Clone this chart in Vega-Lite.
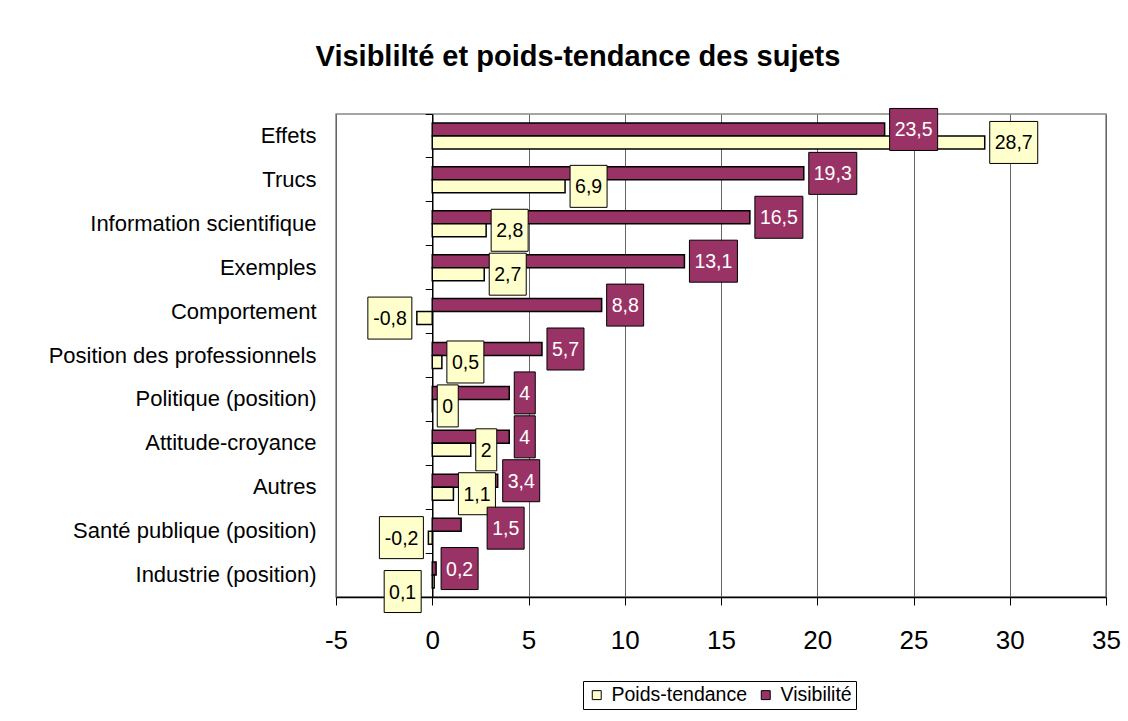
{
  "$schema": "https://vega.github.io/schema/vega-lite/v6.json",
  "width": 770,
  "height": 483,
  "autosize": {"type": "none"},
  "padding": {"left": 336, "top": 114, "right": 22, "bottom": 124},
  "background": "white",
  "title": {
    "text": "Visiblilté et poids-tendance des sujets",
    "font": "Liberation Sans",
    "fontSize": 29,
    "fontWeight": "bold",
    "color": "black",
    "anchor": "middle",
    "dx": -143,
    "offset": 34
  },
  "config": {
    "font": "Liberation Sans",
    "view": {"stroke": "#888", "strokeWidth": 1.5},
    "locale": {"number": {"decimal": ",", "thousands": ".", "grouping": [3], "currency": ["", "€"], "minus": "-"}}
  },
  "data": {
    "values": [
      {"cat": "Effets", "series": "Visibilité", "v": 23.5, "label": "23,5"},
      {"cat": "Effets", "series": "Poids-tendance", "v": 28.7, "label": "28,7"},
      {"cat": "Trucs", "series": "Visibilité", "v": 19.3, "label": "19,3"},
      {"cat": "Trucs", "series": "Poids-tendance", "v": 6.9, "label": "6,9"},
      {"cat": "Information scientifique", "series": "Visibilité", "v": 16.5, "label": "16,5"},
      {"cat": "Information scientifique", "series": "Poids-tendance", "v": 2.8, "label": "2,8"},
      {"cat": "Exemples", "series": "Visibilité", "v": 13.1, "label": "13,1"},
      {"cat": "Exemples", "series": "Poids-tendance", "v": 2.7, "label": "2,7"},
      {"cat": "Comportement", "series": "Visibilité", "v": 8.8, "label": "8,8"},
      {"cat": "Comportement", "series": "Poids-tendance", "v": -0.8, "label": "-0,8"},
      {"cat": "Position des professionnels", "series": "Visibilité", "v": 5.7, "label": "5,7"},
      {"cat": "Position des professionnels", "series": "Poids-tendance", "v": 0.5, "label": "0,5"},
      {"cat": "Politique (position)", "series": "Visibilité", "v": 4, "label": "4"},
      {"cat": "Politique (position)", "series": "Poids-tendance", "v": 0, "label": "0"},
      {"cat": "Attitude-croyance", "series": "Visibilité", "v": 4, "label": "4"},
      {"cat": "Attitude-croyance", "series": "Poids-tendance", "v": 2, "label": "2"},
      {"cat": "Autres", "series": "Visibilité", "v": 3.4, "label": "3,4"},
      {"cat": "Autres", "series": "Poids-tendance", "v": 1.1, "label": "1,1"},
      {"cat": "Santé publique (position)", "series": "Visibilité", "v": 1.5, "label": "1,5"},
      {"cat": "Santé publique (position)", "series": "Poids-tendance", "v": -0.2, "label": "-0,2"},
      {"cat": "Industrie (position)", "series": "Visibilité", "v": 0.2, "label": "0,2"},
      {"cat": "Industrie (position)", "series": "Poids-tendance", "v": 0.1, "label": "0,1"}
    ]
  },
  "resolve": {"axis": {"y": "independent"}},
  "layer": [
    {
      "mark": {"type": "bar", "stroke": "black", "strokeWidth": 1.5},
      "encoding": {
        "y": {
          "field": "cat", "type": "nominal",
          "sort": ["Effets","Trucs","Information scientifique","Exemples","Comportement","Position des professionnels","Politique (position)","Attitude-croyance","Autres","Santé publique (position)","Industrie (position)"],
          "scale": {"paddingInner": 0, "paddingOuter": 0},
          "axis": {"title": null, "orient": "left", "ticks": false, "domain": false, "grid": false, "labelFontSize": 22, "labelColor": "black", "labelPadding": 20, "labelLimit": 400, "labelFont": "Liberation Sans"}
        },
        "yOffset": {"field": "series", "type": "nominal", "sort": ["Visibilité", "Poids-tendance"], "scale": {"paddingInner": 0, "paddingOuter": 0.69}},
        "x": {
          "field": "v", "type": "quantitative",
          "scale": {"domain": [-5, 35], "nice": false},
          "axis": {"title": null, "values": [-5, 0, 5, 10, 15, 20, 25, 30, 35], "format": "d", "grid": true, "gridColor": "#666", "gridWidth": 1, "domainColor": "black", "domainWidth": 1.5, "tickColor": "black", "tickSize": 8, "tickWidth": 1, "labelFontSize": 26, "labelColor": "black", "labelPadding": 22, "labelFont": "Liberation Sans", "labelFlush": false}
        },
        "color": {
          "field": "series", "type": "nominal",
          "scale": {"domain": ["Poids-tendance", "Visibilité"], "range": ["#FFFFCC", "#993366"]},
          "legend": {"title": null, "orient": "none", "legendX": 247, "legendY": 567, "direction": "horizontal", "strokeColor": "black", "fillColor": "white", "padding": 4, "symbolType": "square", "symbolSize": 80, "symbolStrokeColor": "black", "symbolStrokeWidth": 1, "labelFontSize": 19.5, "labelFont": "Liberation Sans", "labelColor": "black", "columnPadding": 8, "labelOffset": 5}
        }
      }
    },
    {
      "transform": [
        {"filter": "datum.series == 'Poids-tendance'"},
        {"calculate": "datum.cat == 'Industrie (position)' ? 'm3' : (datum.v < 0 ? 'n' : 'p') + length(datum.label)", "as": "shp"}
      ],
      "mark": {"type": "point", "filled": true, "fill": "#FFFFCC", "stroke": "black", "strokeWidth": 1, "size": 400, "opacity": 1},
      "encoding": {
        "y": {"field": "cat", "type": "nominal", "sort": ["Effets","Trucs","Information scientifique","Exemples","Comportement","Position des professionnels","Politique (position)","Attitude-croyance","Autres","Santé publique (position)","Industrie (position)"], "axis": null},
        "yOffset": {"field": "series", "type": "nominal", "sort": ["Visibilité", "Poids-tendance"]},
        "x": {"field": "v", "type": "quantitative"},
        "shape": {"field": "shp", "type": "nominal", "legend": null,
          "scale": {"domain": ["p1", "p3", "p4", "n4", "m3", "s3"], "range": ["M0.5,-2.1L2.6,-2.1L2.6,2.1L0.5,2.1Z", "M0.5,-2.1L4.2,-2.1L4.2,2.1L0.5,2.1Z", "M0.5,-2.1L5.3,-2.1L5.3,2.1L0.5,2.1Z", "M-0.5,-2.1L-4.9,-2.1L-4.9,2.1L-0.5,2.1Z", "M-1.3,-1.1L-5.0,-1.1L-5.0,3.1L-1.3,3.1Z", "M2.6,-1.75L6.3,-1.75L6.3,2.45L2.6,2.45Z"]}}
      }
    },
    {
      "transform": [
        {"filter": "datum.series == 'Visibilité'"},
        {"calculate": "datum.cat == 'Santé publique (position)' ? 's3' : (datum.v < 0 ? 'n' : 'p') + length(datum.label)", "as": "shp"}
      ],
      "mark": {"type": "point", "filled": true, "fill": "#993366", "stroke": "black", "strokeWidth": 1, "size": 400, "opacity": 1},
      "encoding": {
        "y": {"field": "cat", "type": "nominal", "sort": ["Effets","Trucs","Information scientifique","Exemples","Comportement","Position des professionnels","Politique (position)","Attitude-croyance","Autres","Santé publique (position)","Industrie (position)"], "axis": null},
        "yOffset": {"field": "series", "type": "nominal", "sort": ["Visibilité", "Poids-tendance"]},
        "x": {"field": "v", "type": "quantitative"},
        "shape": {"field": "shp", "type": "nominal", "legend": null}
      }
    },
    {
      "transform": [{"filter": "datum.series == 'Poids-tendance' && datum.v >= 0 && datum.cat != 'Industrie (position)'"}],
      "mark": {"type": "text", "align": "left", "baseline": "middle", "dx": 10, "dy": 1, "fontSize": 19.5, "font": "Liberation Sans", "color": "black"},
      "encoding": {
        "y": {"field": "cat", "type": "nominal", "sort": ["Effets","Trucs","Information scientifique","Exemples","Comportement","Position des professionnels","Politique (position)","Attitude-croyance","Autres","Santé publique (position)","Industrie (position)"], "axis": null},
        "yOffset": {"field": "series", "type": "nominal", "sort": ["Visibilité", "Poids-tendance"]},
        "x": {"field": "v", "type": "quantitative"},
        "text": {"field": "label"}
      }
    },
    {
      "transform": [{"filter": "datum.series == 'Poids-tendance' && datum.v < 0"}],
      "mark": {"type": "text", "align": "right", "baseline": "middle", "dx": -10, "dy": 1, "fontSize": 19.5, "font": "Liberation Sans", "color": "black"},
      "encoding": {
        "y": {"field": "cat", "type": "nominal", "sort": ["Effets","Trucs","Information scientifique","Exemples","Comportement","Position des professionnels","Politique (position)","Attitude-croyance","Autres","Santé publique (position)","Industrie (position)"], "axis": null},
        "yOffset": {"field": "series", "type": "nominal", "sort": ["Visibilité", "Poids-tendance"]},
        "x": {"field": "v", "type": "quantitative"},
        "text": {"field": "label"}
      }
    },
    {
      "transform": [{"filter": "datum.series == 'Poids-tendance' && datum.cat == 'Industrie (position)'"}],
      "mark": {"type": "text", "align": "right", "baseline": "middle", "dx": -18, "dy": 11, "fontSize": 19.5, "font": "Liberation Sans", "color": "black"},
      "encoding": {
        "y": {"field": "cat", "type": "nominal", "sort": ["Effets","Trucs","Information scientifique","Exemples","Comportement","Position des professionnels","Politique (position)","Attitude-croyance","Autres","Santé publique (position)","Industrie (position)"], "axis": null},
        "yOffset": {"field": "series", "type": "nominal", "sort": ["Visibilité", "Poids-tendance"]},
        "x": {"field": "v", "type": "quantitative"},
        "text": {"field": "label"}
      }
    },
    {
      "transform": [{"filter": "datum.series == 'Visibilité' && datum.cat == 'Santé publique (position)'"}],
      "mark": {"type": "text", "align": "left", "baseline": "middle", "dx": 31, "dy": 4, "fontSize": 19.5, "font": "Liberation Sans", "color": "white"},
      "encoding": {
        "y": {"field": "cat", "type": "nominal", "sort": ["Effets","Trucs","Information scientifique","Exemples","Comportement","Position des professionnels","Politique (position)","Attitude-croyance","Autres","Santé publique (position)","Industrie (position)"], "axis": null},
        "yOffset": {"field": "series", "type": "nominal", "sort": ["Visibilité", "Poids-tendance"]},
        "x": {"field": "v", "type": "quantitative"},
        "text": {"field": "label"}
      }
    },
    {
      "transform": [{"filter": "datum.series == 'Visibilité' && datum.cat != 'Santé publique (position)'"}],
      "mark": {"type": "text", "align": "left", "baseline": "middle", "dx": 10, "dy": 1, "fontSize": 19.5, "font": "Liberation Sans", "color": "white"},
      "encoding": {
        "y": {"field": "cat", "type": "nominal", "sort": ["Effets","Trucs","Information scientifique","Exemples","Comportement","Position des professionnels","Politique (position)","Attitude-croyance","Autres","Santé publique (position)","Industrie (position)"],
          "axis": {"title": null, "orient": "left", "offset": -96.25, "labels": false, "domain": true, "domainColor": "black", "domainWidth": 1.5, "ticks": true, "tickColor": "black", "tickSize": 7, "tickWidth": 1, "bandPosition": 0, "grid": false}},
        "yOffset": {"field": "series", "type": "nominal", "sort": ["Visibilité", "Poids-tendance"]},
        "x": {"field": "v", "type": "quantitative"},
        "text": {"field": "label"}
      }
    }
  ]
}
